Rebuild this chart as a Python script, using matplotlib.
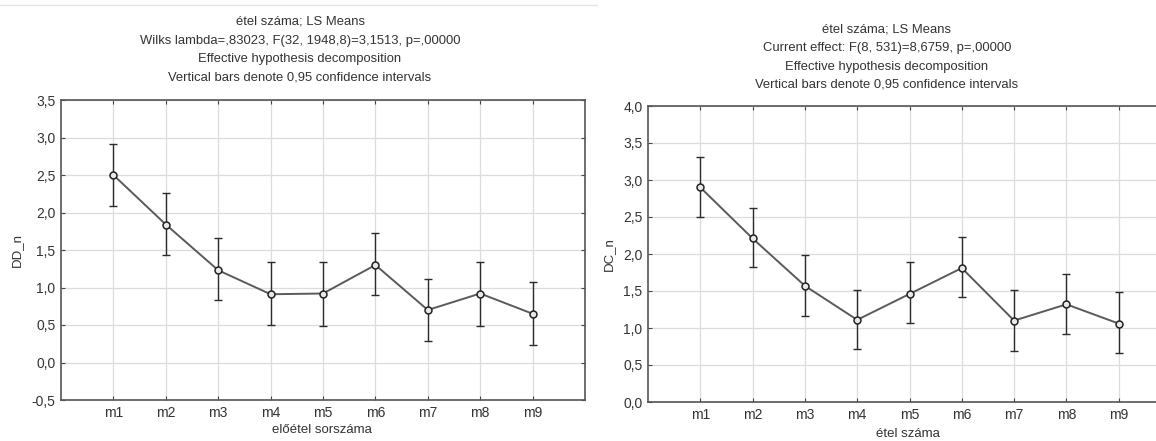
import numpy as np
import matplotlib.pyplot as plt
from matplotlib.lines import Line2D
from matplotlib.ticker import FuncFormatter

plt.rcParams['font.family'] = ['Liberation Sans', 'DejaVu Sans']

cats = ['m1', 'm2', 'm3', 'm4', 'm5', 'm6', 'm7', 'm8', 'm9']

# DD_n by course (left)
dd_mean = [2.50, 1.84, 1.23, 0.91, 0.92, 1.30, 0.70, 0.92, 0.65]
dd_low = [2.09, 1.43, 0.83, 0.50, 0.49, 0.90, 0.29, 0.49, 0.24]
dd_high = [2.92, 2.26, 1.66, 1.34, 1.34, 1.73, 1.12, 1.34, 1.07]

# DC_n by course (right)
dc_mean = [2.90, 2.21, 1.57, 1.11, 1.46, 1.81, 1.10, 1.32, 1.06]
dc_low = [2.50, 1.82, 1.16, 0.71, 1.07, 1.42, 0.69, 0.92, 0.66]
dc_high = [3.31, 2.62, 1.98, 1.52, 1.89, 2.23, 1.51, 1.73, 1.49]

left_title = ['étel száma; LS Means',
              'Wilks lambda=,83023, F(32, 1948,8)=3,1513, p=,00000',
              'Effective hypothesis decomposition',
              'Vertical bars denote 0,95 confidence intervals']
right_title = ['étel száma; LS Means',
               'Current effect: F(8, 531)=8,6759, p=,00000',
               'Effective hypothesis decomposition',
               'Vertical bars denote 0,95 confidence intervals']

W, H = 1156, 441
fig = plt.figure(figsize=(W / 100, H / 100), dpi=100)
txt = '#333333'
comma = FuncFormatter(lambda v, p: f'{v:.1f}'.replace('.', ','))


def panel(rect, mean, low, high, ylim, ylabel, xmax):
    ax = fig.add_axes(rect)
    x = np.arange(1, len(cats) + 1)
    mean = np.array(mean)
    yerr = [mean - np.array(low), np.array(high) - mean]
    ax.plot(x, mean, color='#5a5a5a', lw=1.4, zorder=3)
    ax.errorbar(x, mean, yerr=yerr, fmt='none', ecolor='#2b2b2b',
                elinewidth=1.0, capsize=3, capthick=1.0, zorder=4)
    ax.plot(x, mean, 'o', ms=5, mfc='#e8e8e8', mec='#222222', mew=1.1, zorder=5)
    ax.set_xlim(0, xmax)
    ax.set_ylim(*ylim)
    ax.set_yticks(np.arange(ylim[0], ylim[1] + 0.01, 0.5))
    ax.yaxis.set_major_formatter(comma)
    ax.set_xticks(x)
    ax.set_xticklabels(cats)
    ax.grid(True, color='#dcdcdc', lw=0.9)
    ax.set_axisbelow(True)
    ax.tick_params(direction='in', length=3, top=True, right=True,
                   colors='#444444', labelcolor=txt, labelsize=10, pad=4)
    for s in ax.spines.values():
        s.set_color('#555555')
        s.set_linewidth(1.2)
    ax.set_ylabel(ylabel, color=txt, fontsize=9.5, labelpad=6)
    return ax


# left panel: axes box 61..585 px wide, 100..400 px tall
panel([61 / W, 1 - 400 / H, 524 / W, 300 / H], dd_mean, dd_low, dd_high,
      (-0.5, 3.5), 'DD_n', 10)
# right panel runs off the right edge of the figure
panel([648 / W, 1 - 402 / H, 523 / W, 296 / H], dc_mean, dc_low, dc_high,
      (0.0, 4.0), 'DC_n', 10)

fig.text(322 / W, 1 - 430 / H, 'előétel sorszáma', ha='center', va='center',
         fontsize=9.5, color=txt)
fig.text(908 / W, 1 - 434 / H, 'étel száma', ha='center', va='center',
         fontsize=9.5, color=txt)

for i, line in enumerate(left_title):
    fig.text(300 / W, 1 - (22 + 18.6 * i) / H, line, ha='center', va='center',
             fontsize=9.4, color=txt)
for i, line in enumerate(right_title):
    fig.text(887 / W, 1 - (30 + 18.3 * i) / H, line, ha='center', va='center',
             fontsize=9.4, color=txt)

fig.add_artist(Line2D([0, 597 / W], [1 - 5 / H, 1 - 5 / H],
                      transform=fig.transFigure, color='#e4e4e4', lw=1))

fig.savefig('out.png', dpi=100, facecolor='white')
